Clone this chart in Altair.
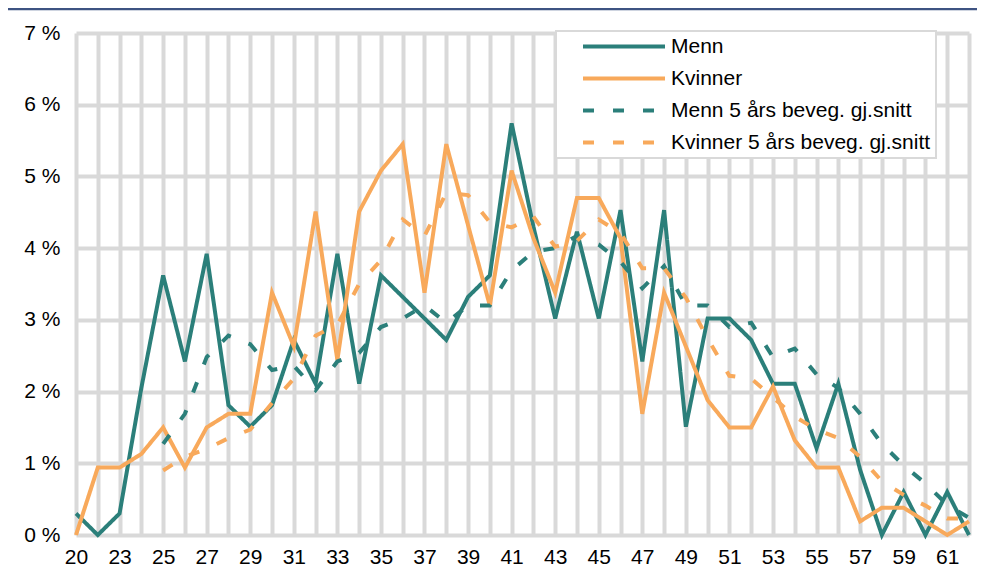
import altair as alt
import pandas as pd

# Age categories (one age, 21, is missing in the source)
ages = [20, 22, 23, 24, 25, 26, 27, 28, 29, 30, 31, 32, 33, 34, 35, 36, 37, 38, 39, 40,
        41, 42, 43, 44, 45, 46, 47, 48, 49, 50, 51, 52, 53, 54, 55, 56, 57, 58, 59, 60, 61, 62]

menn = [0.30, 0.00, 0.30, 2.05, 3.62, 2.42, 3.92, 1.81, 1.51, 1.81, 2.72, 2.11, 3.92, 2.11,
        3.62, 3.32, 3.02, 2.72, 3.32, 3.62, 5.74, 4.30, 3.02, 4.23, 3.02, 4.53, 2.42, 4.53,
        1.51, 3.02, 3.02, 2.72, 2.11, 2.11, 1.21, 2.11, 0.91, 0.00, 0.60, 0.00, 0.60, 0.00]

kvinner = [0.00, 0.94, 0.94, 1.13, 1.50, 0.94, 1.50, 1.69, 1.69, 3.38, 2.63, 4.51, 2.44, 4.51,
           5.08, 5.45, 3.38, 5.45, 4.32, 3.20, 5.08, 4.14, 3.38, 4.70, 4.70, 4.14, 1.69, 3.38,
           2.63, 1.88, 1.50, 1.50, 2.07, 1.32, 0.94, 0.94, 0.19, 0.38, 0.38, 0.19, 0.00, 0.19]

menn_snitt = [None, None, None, None, 1.27, 1.69, 2.48, 2.78, 2.66, 2.30, 2.36, 2.02, 2.42, 2.54,
              2.90, 3.02, 3.20, 2.96, 3.20, 3.20, 3.69, 3.95, 4.00, 4.17, 4.05, 3.81, 3.44, 3.75,
              3.20, 3.20, 2.90, 2.96, 2.48, 2.60, 2.24, 2.05, 1.69, 1.27, 0.97, 0.72, 0.42, 0.24]

kvinner_snitt = [None, None, None, None, 0.90, 1.09, 1.20, 1.35, 1.47, 1.84, 2.18, 2.78, 2.93, 3.50,
                 3.83, 4.40, 4.17, 4.77, 4.74, 4.36, 4.29, 4.44, 4.02, 4.10, 4.40, 4.21, 3.72, 3.72,
                 3.31, 2.74, 2.22, 2.18, 1.92, 1.65, 1.47, 1.35, 1.09, 0.75, 0.56, 0.41, 0.23, 0.23]

series_names = ["Menn", "Kvinner", "Menn 5 års beveg. gj.snitt", "Kvinner 5 års beveg. gj.snitt"]
series_values = [menn, kvinner, menn_snitt, kvinner_snitt]
series_colors = ["#2b7f7a", "#f8a95b", "#2b7f7a", "#f8a95b"]
series_dashes = [[1, 0], [1, 0], [11, 19], [11, 19]]
y_ticks = [0, 1, 2, 3, 4, 5, 6, 7]

rows = []
for name, vals in zip(series_names, series_values):
    for i, (a, v) in enumerate(zip(ages, vals)):
        if v is not None:
            rows.append({"series": name, "idx": i, "age": a, "value": v})
df = pd.DataFrame(rows)

label_list = ",".join("'%d'" % a if i % 2 == 0 else "''" for i, a in enumerate(ages))
label_expr = "[" + label_list + "][datum.value]"

FONT = "Liberation Sans"
GRID = "#d9d9d9"

legend = alt.Legend(
    title=None, orient="none", legendX=480, legendY=-2,
    symbolType="stroke", symbolSize=6724, symbolStrokeWidth=4,
    labelFont=FONT, labelFontSize=21, labelColor="black", labelLimit=500,
    fillColor="white", strokeColor=GRID, padding=5, symbolOffset=20,
    rowPadding=10, labelOffset=4, clipHeight=21,
)

x_enc = alt.X(
    "idx:Q",
    scale=alt.Scale(domain=[0, len(ages) - 1], nice=False, zero=False),
    axis=alt.Axis(values=list(range(len(ages))), labelExpr=label_expr, grid=True, ticks=False,
                  domain=False, title=None, labelFont=FONT, labelFontSize=21, labelColor="black",
                  labelPadding=11, gridColor=GRID, gridWidth=4, labelAngle=0,
                  labelOverlap=False, labelFlush=False),
)
y_enc = alt.Y(
    "value:Q",
    scale=alt.Scale(domain=[0, 7], nice=False, zero=True),
    axis=alt.Axis(values=y_ticks, labelExpr="datum.value + ' %'", grid=True, ticks=False,
                  domain=False, title=None, labelFont=FONT, labelFontSize=21, labelColor="black",
                  labelPadding=16, gridColor=GRID, gridWidth=4),
)
color_enc = alt.Color("series:N", scale=alt.Scale(domain=series_names, range=series_colors),
                      legend=legend)
dash_enc = alt.StrokeDash("series:N", scale=alt.Scale(domain=series_names, range=series_dashes),
                          legend=legend)

base = alt.Chart(df)
layers = []
for name in series_names:
    layers.append(
        base.transform_filter(alt.datum.series == name)
        .mark_line(strokeWidth=4, strokeCap="butt")
        .encode(x=x_enc, y=y_enc, color=color_enc, strokeDash=dash_enc)
    )

top_rule = alt.Chart(pd.DataFrame({"a": [0]})).mark_rule(color="#3e5382", strokeWidth=2.5).encode(
    y=alt.value(-24), x=alt.value(-68), x2=alt.value(901)
)

chart = alt.layer(*layers, top_rule).properties(
    width=893, height=502,
    autosize=alt.AutoSizeParams(type="none"),
    padding={"left": 68, "top": 25, "right": 8, "bottom": 40},
    background="white",
).configure_view(stroke=None).configure_legend(strokeWidth=2)

chart.save("out.html", embed_options={"renderer": "svg", "actions": False})
